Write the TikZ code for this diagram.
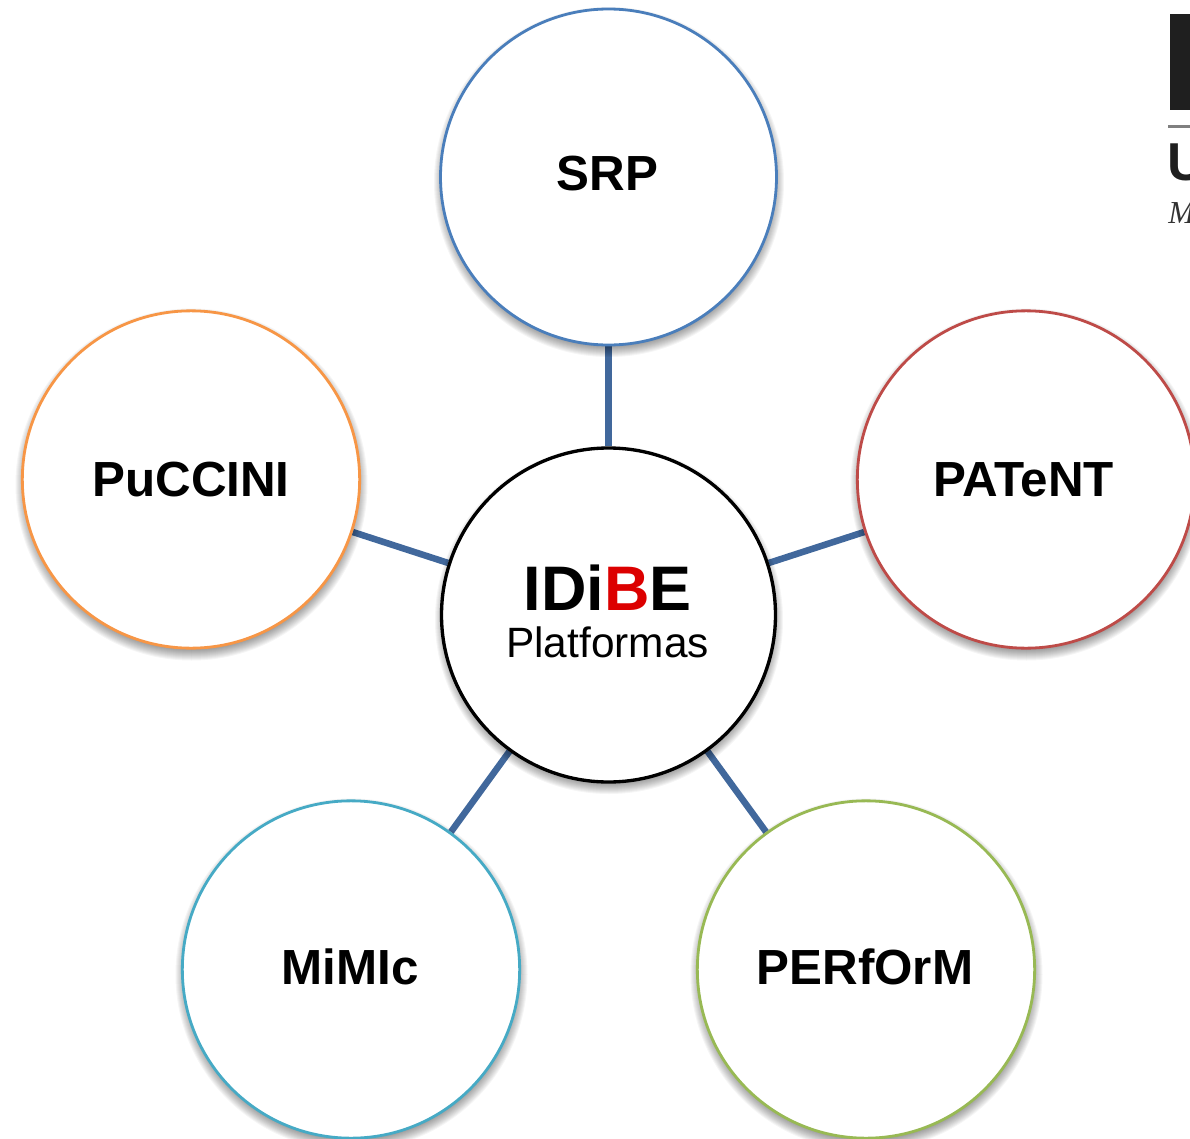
\documentclass[tikz,border=0pt]{standalone}
\usepackage{fontspec}
\setmainfont{Liberation Sans}
\usetikzlibrary{calc}
\definecolor{linkblue}{HTML}{41689C}
\definecolor{cblue}{HTML}{4A7EBB}
\definecolor{cred}{HTML}{BE4B48}
\definecolor{cgreen}{HTML}{98B954}
\definecolor{cteal}{HTML}{46AAC5}
\definecolor{corange}{HTML}{F79646}
\definecolor{cbe}{HTML}{DC0000}
\pgfdeclarelayer{linklayer}
\pgfdeclarelayer{shadowlayer}
\pgfsetlayers{linklayer,shadowlayer,main}
\newcommand{\softshadow}[2]{%
  \foreach \d in {8,7,...,-4}{%
    \fill[black,opacity=.04] ($(#1.center)+(0.5,5)$) circle ({#2+\d});
  }}
\tikzset{x=0.75pt,y=-0.75pt,
 plat/.style={circle,fill=white,line width=2.1pt,minimum size=253pt,inner sep=0pt,
  font=\bfseries\fontsize{37}{40}\selectfont},
 link/.style={draw=linkblue,line width=4.9pt}}
\begin{document}
\begin{tikzpicture}
\useasboundingbox (0,0) rectangle (1190,1139);
\node[plat,draw=cblue,minimum size=252pt] (srp) at (608.5,177) {\hspace*{-1.5pt}\raisebox{6pt}{SRP}};
\node[plat,draw=corange] (puc) at (191,479.5) {\raisebox{-0.8pt}{PuCCINI}};
\node[plat,draw=cred] (pat) at (1026,479.5) {\hspace*{-3.5pt}\raisebox{-0.8pt}{PATeNT}};
\node[plat,draw=cteal] (mim) at (351,969.5) {\hspace*{-1.5pt}\raisebox{4.9pt}{MiMIc}};
\node[plat,draw=cgreen] (per) at (866,969.5) {\hspace*{-1.5pt}\raisebox{4.9pt}{PERfOrM}};
\node[plat,draw=black,line width=2.5pt,minimum size=250.5pt] (cen) at (608.5,615) {};
\begin{pgfonlayer}{linklayer}
\draw[link] (srp) -- (cen);
\draw[link] (puc) -- (cen);
\draw[link] (pat) -- (cen);
\draw[link] (mim) -- (cen);
\draw[link] (per) -- (cen);
\end{pgfonlayer}
\begin{pgfonlayer}{shadowlayer}
\softshadow{srp}{167}
\softshadow{puc}{168}
\softshadow{pat}{168}
\softshadow{mim}{168}
\softshadow{per}{168}
\softshadow{cen}{166}
\end{pgfonlayer}
\node[font=\bfseries\fontsize{47.2}{50}\selectfont] (idibe) at (607.5,587.5) {IDi\textcolor{cbe}{B}E};
\node[font=\fontsize{31.8}{34}\selectfont] (plats) at (607.5,642.5) {Platformas};
\fill[black!88] (1170,14) rectangle (1190,110);
\fill[black!50] (1168,125) rectangle (1190,128);
\node[font=\bfseries\fontsize{40}{40}\selectfont,anchor=base west,inner sep=0pt,text=black!88] (u) at (1167,180) {U};
\node[font=\fontspec{Liberation Serif}\itshape\fontsize{24}{24}\selectfont,anchor=base west,inner sep=0pt,text=black!80] (m) at (1168,223) {M};
\end{tikzpicture}
\end{document}
